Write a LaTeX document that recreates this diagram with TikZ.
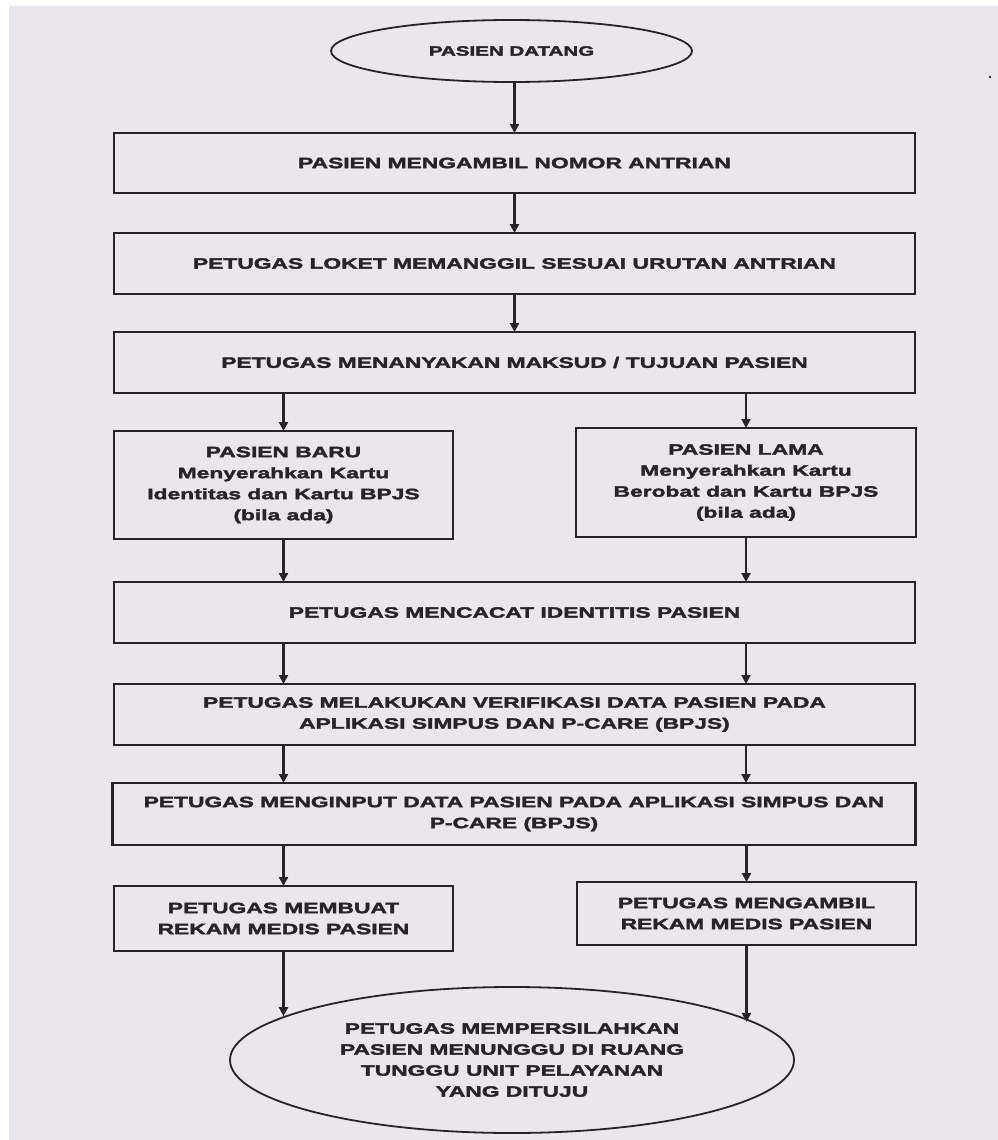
\documentclass[tikz,border=0pt]{standalone}
\usepackage{fontspec}
\usetikzlibrary{shapes.geometric,arrows.meta}
\newfontfamily\flow{Liberation Sans}[UprightFont={* Bold}, FakeStretch=1.52, FakeBold=2.4]
\definecolor{paper}{RGB}{233,230,238}
\definecolor{ink}{RGB}{38,36,38}
\tikzset{
  box/.style={draw=ink, line width=2.2pt, rectangle, inner sep=0pt, outer sep=0pt,
    align=center, text=ink, font=\flow\fontsize{15}{21}\selectfont},
  oval/.style={box, ellipse, line width=1.8pt},
  arr/.style={draw=ink, line width=2.2pt, -{Triangle[length=9pt,width=9pt]}}
}
\begin{document}
\begin{tikzpicture}[x=1pt,y=-1pt]
\useasboundingbox (0,0) rectangle (998,1140);
\fill[white] (0,0) rectangle (998,1140);
\fill[paper] (9,6) rectangle (998,1140);
\fill[ink] (990,77) circle (1.3);

\node[oval, minimum width=361pt, minimum height=62pt, font=\flow\fontsize{13.5}{18}\selectfont] (start) at (511.5,51) {PASIEN DATANG};
\node[box, minimum width=801pt, minimum height=60pt] (b1) at (514.5,163) {PASIEN MENGAMBIL NOMOR ANTRIAN};
\node[box, minimum width=801pt, minimum height=61pt] (b2) at (514.5,263.5) {PETUGAS LOKET MEMANGGIL SESUAI URUTAN ANTRIAN};
\node[box, minimum width=801pt, minimum height=61pt] (b3) at (514.5,362.5) {PETUGAS MENANYAKAN MAKSUD / TUJUAN PASIEN};
\node[box, minimum width=339pt, minimum height=108pt] (baru) at (283.5,485) {PASIEN BARU\\Menyerahkan Kartu\\Identitas dan Kartu BPJS\\(bila ada)};
\node[box, minimum width=340pt, minimum height=109pt] (lama) at (746,482.5) {PASIEN LAMA\\Menyerahkan Kartu\\Berobat dan Kartu BPJS\\(bila ada)};
\node[box, minimum width=801pt, minimum height=61pt] (b4) at (514.5,612.5) {PETUGAS MENCACAT IDENTITIS PASIEN};
\node[box, minimum width=801pt, minimum height=61pt] (b5) at (514.5,714.5) {PETUGAS MELAKUKAN VERIFIKASI DATA PASIEN PADA\\APLIKASI SIMPUS DAN P-CARE (BPJS)};
\node[box, minimum width=803pt, minimum height=62pt] (b6) at (514,814) {PETUGAS MENGINPUT DATA PASIEN PADA APLIKASI SIMPUS DAN\\P-CARE (BPJS)};
\node[box, minimum width=339pt, minimum height=65pt] (membuat) at (283.5,918.5) {PETUGAS MEMBUAT\\REKAM MEDIS PASIEN};
\node[box, minimum width=339pt, minimum height=63pt] (mengambil) at (746.5,913.5) {PETUGAS MENGAMBIL\\REKAM MEDIS PASIEN};
\node[oval, minimum width=564pt, minimum height=146pt] (final) at (512,1060) {PETUGAS MEMPERSILAHKAN\\PASIEN MENUNGGU DI RUANG\\TUNGGU UNIT PELAYANAN\\YANG DITUJU};

\draw[arr] (start.south -| b1) -- (b1.north);
\draw[arr] (b1.south) -- (b2.north);
\draw[arr] (b2.south) -- (b3.north);
\draw[arr] (b3.south -| baru) -- (baru.north);
\draw[arr] (b3.south -| lama) -- (lama.north);
\draw[arr] (baru.south) -- (b4.north -| baru);
\draw[arr] (lama.south) -- (b4.north -| lama);
\draw[arr] (b4.south -| baru) -- (b5.north -| baru);
\draw[arr] (b4.south -| lama) -- (b5.north -| lama);
\draw[arr] (b5.south -| baru) -- (b6.north -| baru);
\draw[arr] (b5.south -| lama) -- (b6.north -| lama);
\draw[arr] (b6.south -| membuat) -- (membuat.north);
\draw[arr] (b6.south -| mengambil) -- (mengambil.north);
\draw[arr] (membuat.south) -- (membuat.south |- final.169.3);
\draw[arr] (mengambil.south) -- (mengambil.south |- final.9.9);
\end{tikzpicture}
\end{document}
